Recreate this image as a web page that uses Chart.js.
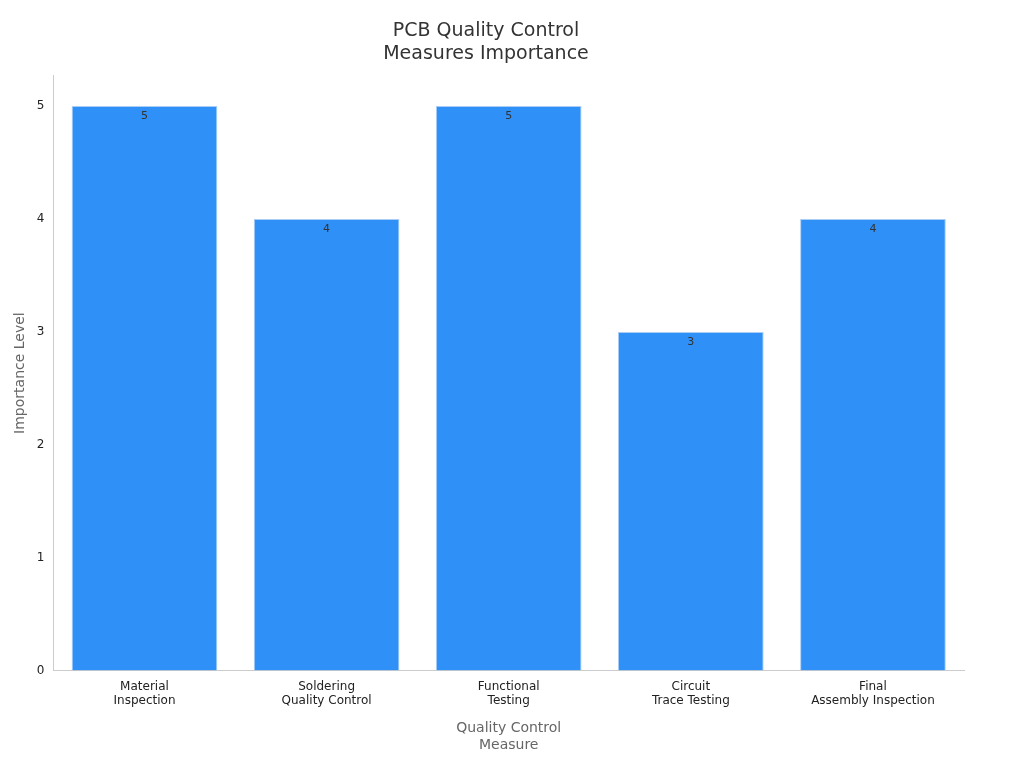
<!DOCTYPE html>
<html>
<head>
<meta charset="utf-8">
<script src="https://cdn.jsdelivr.net/npm/chart.js@4"></script>
<style>
  body { margin: 0; background: #fff; }
  #wrap { width: 1024px; height: 768px; }
</style>
</head>
<body>
<div id="wrap"><canvas id="chart" width="1024" height="768"></canvas></div>
<script>
const categories = [
    ['Material', 'Inspection'],
    ['Soldering', 'Quality Control'],
    ['Functional', 'Testing'],
    ['Circuit', 'Trace Testing'],
    ['Final', 'Assembly Inspection']
];
const importance = [5, 4, 5, 3, 4];
const yTicks = [0, 1, 2, 3, 4, 5];

Chart.defaults.font.family = 'DejaVu Sans';

const barLabels = {
    id: 'barLabels',
    afterDatasetsDraw(chart) {
        const c = chart.ctx;
        const meta = chart.getDatasetMeta(0);
        c.save();
        c.font = '11px DejaVu Sans';
        c.fillStyle = '#333';
        c.textAlign = 'center';
        c.textBaseline = 'top';
        meta.data.forEach((bar, i) => {
            c.fillText(String(importance[i]), bar.x, bar.y + 5);
        });
        c.restore();
    }
};

new Chart(document.getElementById('chart'), {
    type: 'bar',
    data: {
        labels: categories,
        datasets: [{
            data: importance,
            backgroundColor: '#2f91f7',
            borderColor: '#a9cdf5',
            borderWidth: 1,
            barPercentage: 1,
            categoryPercentage: 0.8
        }]
    },
    options: {
        responsive: false,
        animation: false,
        layout: { padding: { top: 10, right: 60, left: 8, bottom: 10 } },
        plugins: {
            legend: { display: false },
            tooltip: { enabled: false },
            title: {
                display: true,
                text: ['PCB Quality Control', 'Measures Importance'],
                color: '#333',
                font: { size: 19, weight: 'normal' },
                padding: { top: 10, bottom: 10 }
            }
        },
        scales: {
            x: {
                grid: { display: false, drawTicks: true, tickLength: 5 },
                border: { color: '#ccc' },
                ticks: { color: '#222', font: { size: 12 }, padding: 4 },
                title: {
                    display: true,
                    text: ['Quality Control', 'Measure'],
                    color: '#666',
                    font: { size: 14 },
                    padding: { top: 8 }
                }
            },
            y: {
                min: 0,
                max: 5.27,
                grid: { display: false, drawTicks: true, tickLength: 5 },
                border: { color: '#ccc' },
                afterBuildTicks: axis => { axis.ticks = yTicks.map(v => ({ value: v })); },
                ticks: { color: '#222', font: { size: 12 }, padding: 4 },
                title: {
                    display: true,
                    text: 'Importance Level',
                    color: '#666',
                    font: { size: 14 }
                }
            }
        }
    },
    plugins: [barLabels]
});
</script>
</body>
</html>
